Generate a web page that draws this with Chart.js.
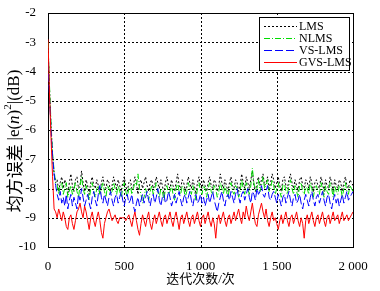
<!DOCTYPE html>
<html lang="zh">
<head>
<meta charset="UTF-8">
<title>均方误差曲线</title>
<style>
  * { margin: 0; padding: 0; box-sizing: border-box; }
  body { background: #fff; width: 380px; height: 291px; overflow: hidden; }
  #chart { display: block; }
</style>
</head>
<body>
<canvas id="chart" width="380" height="291"></canvas>

<script src="https://cdn.jsdelivr.net/npm/chart.js"></script>
<script>
// data, one value every 10 iterations (0..2000)
const seriesNames = ['LMS', 'NLMS', 'VS-LMS', 'GVS-LMS'];
const xTicks = [0, 500, 1000, 1500, 2000];
const yTicks = [-2, -3, -4, -5, -6, -7, -8, -9, -10];

const iterations = [];
for (let i = 0; i <= 200; i++) iterations.push(i * 10);

const lms = [
  -3.0,-4.6,-5.9,-6.9,-7.5,-7.8,-7.7,-8.1,-7.8,-7.6,
  -8.0,-7.7,-7.9,-8.2,-7.8,-7.5,-7.9,-8.1,-7.7,-7.6,
  -8.0,-7.9,-7.4,-7.8,-8.1,-7.7,-7.9,-8.2,-7.8,-7.6,
  -7.9,-8.0,-7.7,-7.9,-8.2,-7.8,-7.6,-7.9,-8.0,-7.7,
  -7.8,-8.1,-7.9,-7.6,-7.8,-8.0,-7.7,-7.9,-8.1,-7.8,
  -7.6,-7.9,-8.1,-7.8,-7.7,-8.0,-7.9,-7.6,-7.8,-8.2,
  -7.8,-7.7,-8.0,-7.8,-7.6,-7.9,-8.1,-7.8,-7.7,-8.0,
  -7.9,-7.6,-7.8,-8.0,-7.7,-7.9,-8.2,-7.8,-7.6,-7.9,
  -8.0,-7.7,-7.9,-8.1,-7.8,-7.5,-7.9,-8.0,-7.7,-7.8,
  -8.1,-7.9,-7.6,-7.8,-8.0,-7.7,-7.9,-8.2,-7.8,-7.6,
  -7.9,-8.0,-7.7,-7.9,-8.1,-7.8,-7.6,-7.9,-8.0,-7.7,
  -7.8,-8.1,-7.9,-7.5,-7.8,-8.0,-7.7,-7.9,-8.1,-7.8,
  -7.6,-7.9,-8.0,-7.7,-7.8,-8.1,-7.9,-7.5,-7.8,-8.0,
  -7.6,-7.8,-8.0,-7.7,-7.4,-7.9,-8.1,-7.8,-7.6,-7.9,
  -7.7,-7.5,-7.9,-7.8,-7.6,-8.0,-7.8,-7.5,-7.7,-8.0,
  -7.8,-7.6,-7.9,-8.1,-7.7,-7.6,-7.9,-8.0,-7.7,-7.5,
  -7.8,-8.0,-7.7,-7.9,-8.1,-7.7,-7.6,-7.9,-8.0,-7.7,
  -7.8,-8.0,-7.6,-7.8,-8.1,-7.8,-7.7,-7.9,-8.0,-7.6,
  -7.8,-8.1,-7.7,-7.9,-8.0,-7.6,-7.8,-8.1,-7.7,-7.9,
  -8.0,-7.7,-7.8,-8.1,-7.8,-7.6,-7.9,-8.0,-7.7,-7.8,
  -7.9
];

const nlms = [
  -3.0,-4.5,-5.8,-6.8,-7.4,-7.8,-7.9,-8.2,-7.9,-7.8,
  -8.2,-8.0,-7.8,-8.3,-8.1,-7.9,-8.2,-8.0,-7.8,-8.1,
  -8.3,-7.9,-7.6,-8.0,-8.2,-7.9,-8.1,-8.4,-8.0,-7.8,
  -8.1,-8.3,-8.0,-7.9,-8.2,-8.0,-7.8,-8.1,-8.3,-7.9,
  -8.0,-8.2,-8.1,-7.8,-8.0,-8.2,-7.9,-8.1,-8.3,-8.0,
  -7.8,-8.1,-8.3,-8.0,-7.9,-8.2,-8.0,-7.8,-7.9,-7.5,
  -8.0,-8.2,-8.5,-8.3,-8.0,-8.2,-8.4,-8.1,-7.9,-8.2,
  -8.0,-7.8,-8.1,-8.3,-8.0,-8.1,-8.4,-8.0,-7.9,-8.2,
  -8.1,-7.9,-8.2,-8.4,-8.0,-7.8,-8.1,-8.2,-7.9,-8.0,
  -8.3,-8.1,-7.8,-8.0,-8.2,-7.9,-8.1,-8.4,-8.0,-7.8,
  -8.1,-8.2,-7.9,-8.0,-8.3,-8.0,-7.8,-8.1,-8.2,-7.9,
  -8.0,-8.3,-8.1,-7.8,-8.0,-8.2,-7.9,-8.1,-8.3,-8.0,
  -7.8,-8.1,-8.2,-7.9,-8.0,-8.3,-8.1,-7.7,-8.0,-8.2,
  -7.8,-8.0,-8.2,-7.9,-7.3,-7.8,-8.1,-8.0,-7.7,-8.1,
  -7.9,-7.6,-8.0,-7.9,-7.7,-8.1,-8.0,-7.7,-7.9,-8.2,
  -8.0,-7.8,-8.1,-8.3,-7.9,-7.8,-8.1,-8.2,-7.9,-7.7,
  -8.0,-8.2,-7.9,-8.1,-8.3,-7.9,-7.8,-8.1,-8.2,-7.9,
  -8.0,-8.2,-7.8,-8.0,-8.3,-8.0,-7.9,-8.1,-8.2,-7.8,
  -8.0,-8.3,-7.9,-8.1,-8.2,-7.8,-8.0,-8.3,-7.9,-8.1,
  -8.2,-7.9,-8.0,-8.3,-8.0,-7.8,-8.1,-8.2,-7.9,-8.0,
  -8.1
];

const vslms = [
  -3.7,-4.9,-6.0,-6.9,-7.5,-7.9,-8.2,-8.4,-8.1,-8.5,
  -8.3,-8.6,-8.2,-8.7,-8.4,-8.2,-8.6,-8.3,-8.5,-8.7,
  -8.2,-8.4,-8.0,-8.3,-8.6,-8.4,-8.2,-8.5,-8.7,-8.3,
  -8.1,-8.4,-8.6,-8.2,-7.9,-8.3,-8.5,-8.2,-8.4,-8.6,
  -8.3,-8.1,-8.4,-8.6,-8.3,-8.2,-8.5,-8.3,-8.1,-8.4,
  -8.6,-8.3,-8.2,-8.5,-8.4,-8.2,-8.6,-8.8,-8.5,-8.3,
  -8.6,-8.4,-8.2,-8.5,-8.3,-8.1,-8.4,-8.6,-8.3,-8.2,
  -8.5,-8.3,-8.0,-8.4,-8.6,-8.3,-8.2,-8.5,-8.4,-8.1,
  -8.3,-8.6,-8.4,-8.2,-8.5,-8.3,-8.1,-8.4,-8.6,-8.3,
  -8.2,-8.5,-8.3,-8.1,-8.4,-8.6,-8.3,-8.2,-8.5,-8.4,
  -8.2,-8.5,-8.3,-8.6,-8.4,-8.2,-8.5,-8.3,-8.1,-8.4,
  -8.6,-8.8,-8.5,-8.3,-8.1,-8.4,-8.6,-8.3,-8.2,-8.4,
  -8.1,-8.3,-8.5,-8.2,-8.0,-8.3,-8.5,-8.2,-8.1,-8.4,
  -8.2,-8.0,-8.3,-8.5,-8.1,-8.2,-8.4,-8.0,-8.2,-8.1,
  -7.9,-8.2,-8.3,-8.1,-7.9,-8.3,-8.4,-8.2,-8.1,-8.3,
  -8.5,-8.2,-8.4,-8.6,-8.3,-8.2,-8.5,-8.3,-8.1,-8.4,
  -8.6,-8.3,-8.2,-8.5,-8.4,-8.2,-8.5,-8.7,-8.4,-8.2,
  -8.4,-8.6,-8.3,-8.1,-8.4,-8.6,-8.3,-8.2,-8.5,-8.3,
  -8.1,-8.4,-8.6,-8.3,-8.2,-8.5,-8.7,-8.4,-8.2,-8.5,
  -8.3,-8.6,-8.4,-8.2,-8.5,-8.3,-8.1,-8.4,-8.3,-8.2,
  -8.1
];

const gvslms = [
  -2.9,-4.8,-6.3,-7.6,-8.7,-8.8,-9.0,-8.7,-8.9,-9.1,
  -8.8,-9.0,-9.3,-9.4,-9.0,-8.9,-9.2,-9.4,-9.1,-8.8,
  -8.7,-8.5,-8.8,-9.0,-8.6,-8.8,-9.1,-9.4,-9.0,-8.8,
  -9.1,-9.3,-9.0,-8.8,-9.1,-9.5,-9.7,-9.2,-9.0,-8.8,
  -8.7,-8.9,-9.1,-9.0,-8.9,-9.1,-9.2,-9.0,-9.0,-9.0,
  -9.0,-9.1,-9.0,-8.9,-9.1,-9.3,-9.0,-8.8,-9.1,-9.4,
  -9.6,-9.2,-8.9,-9.1,-9.3,-9.0,-8.8,-9.2,-9.4,-9.1,
  -8.9,-9.2,-9.0,-8.8,-9.1,-9.3,-9.0,-8.9,-9.2,-9.0,
  -8.8,-9.1,-9.3,-9.0,-8.8,-9.1,-9.4,-9.0,-8.9,-9.2,
  -9.0,-8.8,-9.1,-9.3,-9.0,-8.9,-9.2,-9.0,-8.8,-9.1,
  -9.3,-9.0,-8.9,-9.2,-9.0,-8.8,-9.1,-9.3,-9.0,-9.2,
  -9.7,-9.1,-8.9,-9.2,-9.0,-8.8,-9.1,-9.3,-9.0,-8.9,
  -9.2,-9.0,-8.8,-9.1,-8.9,-8.7,-9.0,-9.2,-8.8,-9.0,
  -8.6,-8.9,-9.1,-8.8,-8.5,-8.9,-9.2,-9.3,-8.9,-8.7,
  -8.5,-8.8,-9.0,-8.7,-9.1,-9.3,-9.0,-8.8,-9.1,-9.0,
  -9.2,-9.4,-9.1,-8.9,-9.2,-9.0,-8.8,-9.1,-9.3,-9.0,
  -8.9,-9.2,-9.0,-8.8,-9.1,-9.3,-9.0,-9.2,-9.7,-9.1,
  -8.9,-9.2,-9.0,-8.8,-9.1,-9.3,-9.0,-8.9,-9.2,-9.0,
  -8.8,-9.1,-9.3,-9.0,-8.9,-9.2,-9.0,-8.8,-9.1,-9.0,
  -8.9,-9.2,-9.0,-8.8,-9.1,-9.0,-8.9,-9.1,-9.0,-8.9,
  -8.8
];

const FONT = '"Liberation Serif", "Noto Sans CJK SC", serif';
const CJK = '"Noto Sans CJK SC", sans-serif';

function pts(arr) {
    return arr.map((v, i) => ({ x: iterations[i], y: v }));
}

const styles = [
    { color: '#000000', dash: [2, 2], order: 4 },
    { color: '#00dd00', dash: [6, 2, 1, 2], order: 3 },
    { color: '#0000ff', dash: [8, 3], order: 2 },
    { color: '#ff0000', dash: [], order: 1 }
];
const seriesData = [lms, nlms, vslms, gvslms];

// dotted grid + axes box, drawn under the curves
const gridPlugin = {
    id: 'dotGrid',
    beforeDatasetsDraw(chart) {
        const a = chart.chartArea, c = chart.ctx;
        const xs = chart.scales.x, ys = chart.scales.y;
        c.save();
        c.strokeStyle = '#000';
        c.lineWidth = 1;
        c.setLineDash([2, 2]);
        xTicks.forEach(v => {
            const px = Math.round(xs.getPixelForValue(v)) + 0.5;
            c.beginPath(); c.moveTo(px, a.top); c.lineTo(px, a.bottom); c.stroke();
        });
        yTicks.forEach(v => {
            const py = Math.round(ys.getPixelForValue(v)) + 0.5;
            c.beginPath(); c.moveTo(a.left, py); c.lineTo(a.right, py); c.stroke();
        });
        c.setLineDash([]);
        c.strokeRect(Math.round(a.left) + 0.5, Math.round(a.top) + 0.5,
                     Math.round(a.right - a.left), Math.round(a.bottom - a.top));
        c.restore();
    }
};

// rotated y title with italic n and superscript 2
const yTitlePlugin = {
    id: 'yTitle',
    afterDraw(chart) {
        const c = chart.ctx;
        const parts = [
            { t: '均方误差 ', f: '17px ' + CJK, dy: 0 },
            { t: '|e(', f: '17px ' + FONT, dy: 0 },
            { t: 'n', f: 'italic 17px ' + FONT, dy: 0 },
            { t: ')', f: '17px ' + FONT, dy: 0 },
            { t: '2', f: '11px ' + FONT, dy: -7 },
            { t: '|(dB)', f: '17px ' + FONT, dy: 0 }
        ];
        let total = 0;
        parts.forEach(p => { c.font = p.f; p.w = c.measureText(p.t).width; total += p.w; });
        c.save();
        c.translate(15, 141);
        c.rotate(-Math.PI / 2);
        c.fillStyle = '#000';
        c.textBaseline = 'middle';
        let x = -total / 2;
        parts.forEach(p => { c.font = p.f; c.fillText(p.t, x, p.dy); x += p.w; });
        c.restore();
    }
};

// legend box in the top right corner
const legendPlugin = {
    id: 'boxLegend',
    afterDraw(chart) {
        const c = chart.ctx;
        const x0 = 259, y0 = 17, w = 90, h = 53;
        c.save();
        c.fillStyle = '#fff';
        c.fillRect(x0, y0, w, h);
        c.strokeStyle = '#000';
        c.lineWidth = 1;
        c.setLineDash([]);
        c.strokeRect(x0 + 0.5, y0 + 0.5, w, h);
        seriesNames.forEach((name, i) => {
            const y = y0 + 9 + i * 12;
            c.strokeStyle = styles[i].color;
            c.lineWidth = 1;
            c.setLineDash(styles[i].dash);
            c.beginPath();
            c.moveTo(x0 + 5, y + 0.5);
            c.lineTo(x0 + 38, y + 0.5);
            c.stroke();
            c.setLineDash([]);
            c.fillStyle = '#000';
            c.font = '12px ' + FONT;
            c.textBaseline = 'middle';
            c.fillText(name, x0 + 40, y + 1);
        });
        c.restore();
    }
};

new Chart(document.getElementById('chart'), {
    type: 'line',
    data: {
        datasets: seriesNames.map((name, i) => ({
            label: name,
            data: pts(seriesData[i]),
            borderColor: styles[i].color,
            borderDash: styles[i].dash,
            borderWidth: 1,
            pointRadius: 0,
            tension: 0,
            order: styles[i].order
        }))
    },
    options: {
        responsive: false,
        animation: false,
        layout: { padding: { top: 13, right: 27, left: 0, bottom: 0 } },
        plugins: { legend: { display: false }, tooltip: { enabled: false } },
        scales: {
            x: {
                type: 'linear',
                min: 0, max: 2000,
                afterBuildTicks: s => { s.ticks = xTicks.map(v => ({ value: v })); },
                afterFit: s => { s.height = 44; },
                ticks: {
                    color: '#000',
                    padding: 4,
                    font: { family: FONT, size: 13 },
                    callback: v => v >= 1000 ? Math.floor(v / 1000) + ' ' + String(v % 1000).padStart(3, '0') : String(v)
                },
                grid: { display: false },
                border: { display: false },
                title: { display: true, text: '迭代次数/次', color: '#000', font: { family: FONT, size: 13 }, padding: { top: 2 } }
            },
            y: {
                min: -10, max: -2,
                afterBuildTicks: s => { s.ticks = yTicks.map(v => ({ value: v })); },
                afterFit: s => { s.width = 48; },
                ticks: { color: '#000', padding: 4, font: { family: FONT, size: 13 } },
                grid: { display: false },
                border: { display: false },
                title: { display: false }
            }
        }
    },
    plugins: [gridPlugin, yTitlePlugin, legendPlugin]
});
</script>
</body>
</html>
